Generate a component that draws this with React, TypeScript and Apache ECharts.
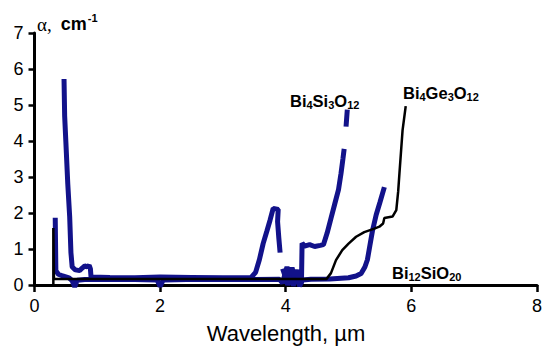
import React, { useEffect, useRef } from "react";
import * as echarts from "echarts";

const xMin = 0;
const xMax = 8;
const xStep = 2;
const yMin = 0;
const yMax = 7;
const yStep = 1;

// [wavelength µm, alpha cm^-1]
const bi4si3o12: (number | string)[][] = [
  [0.47, 5.72], [0.48, 4.7], [0.5, 3.95], [0.53, 2.8], [0.56, 1.9], [0.58, 0.9], [0.6, 0.5],
  [0.65, 0.42], [0.72, 0.4], [0.76, 0.47], [0.8, 0.53], [0.84, 0.5], [0.87, 0.55], [0.89, 0.45],
  [0.9, 0.22], [1.2, 0.21], [1.6, 0.2], [2.0, 0.22], [2.5, 0.21], [3.0, 0.2], [3.45, 0.21],
  [3.52, 0.35], [3.58, 0.7], [3.64, 1.15], [3.7, 1.5], [3.75, 1.8], [3.8, 2.13], [3.88, 2.1],
  [3.87, 1.76], [3.89, 1.3], [3.91, 0.9], [3.93, "-"], [3.95, 0.45], [3.98, 0.3], [4.02, 0.5],
  [4.06, 0.28], [4.1, 0.48], [4.14, 0.22], [4.18, 0.42], [4.21, 0.12], [4.25, 0.05], [4.26, 1.16],
  [4.3, 1.08], [4.38, 1.12], [4.46, 1.07], [4.55, 1.1], [4.6, 1.12], [4.66, 1.45], [4.72, 1.85],
  [4.78, 2.25], [4.84, 2.65], [4.88, 3.1], [4.91, 3.5], [4.93, 3.78], [4.94, "-"], [4.96, 4.4],
  [4.98, 4.87],
];

const bi12sio20: number[][] = [
  [0.33, 1.87], [0.34, 0.4], [0.38, 0.3], [0.45, 0.25], [0.55, 0.2], [0.6, 0.12], [0.64, -0.05],
  [0.68, 0.13], [0.8, 0.15], [1.2, 0.15], [1.6, 0.15], [1.95, 0.14], [2.0, -0.04], [2.05, 0.14],
  [2.6, 0.16], [3.0, 0.15], [3.5, 0.15], [3.9, 0.16], [3.95, 0.05], [3.99, 0.32], [4.03, 0.0],
  [4.08, 0.28], [4.12, -0.02], [4.17, 0.3], [4.22, -0.03], [4.27, 0.14], [4.4, 0.16], [4.7, 0.17],
  [5.0, 0.2], [5.12, 0.25], [5.2, 0.32], [5.26, 0.5], [5.3, 0.7], [5.34, 1.1], [5.38, 1.5],
  [5.44, 1.95], [5.5, 2.3], [5.57, 2.72],
];

const bi4ge3o12: number[][] = [
  [0.3, 0], [0.3, 1.58], [0.31, 0.17], [0.6, 0.17], [4.65, 0.17], [4.72, 0.33], [4.8, 0.69],
  [4.9, 0.97], [5.0, 1.15], [5.12, 1.34], [5.25, 1.47], [5.4, 1.56], [5.49, 1.62], [5.55, 1.71],
  [5.57, 1.86], [5.7, 1.9], [5.76, 2.08], [5.79, 2.6], [5.81, 3.1], [5.86, 4.3], [5.91, 4.97],
];

const xAxisTitle = "Wavelength, µm";

const SANS = "'Liberation Sans', Arial, sans-serif";
const BLUE = "#12128a";

function formula(parts: [string, string][]) {
  return parts.map(([k, t]) => `{${k}|${t}}`).join("");
}

export default function App() {
  const ref = useRef<HTMLDivElement>(null);

  useEffect(() => {
    document.body.style.margin = "0";
    if (!ref.current) return;
    const chart = echarts.init(ref.current, null, { renderer: "svg" });

    const formulaRich = {
      m: { fontSize: 16.5, fontWeight: "bold", fontFamily: SANS, fill: "#000", color: "#000", lineHeight: 18 },
      s: { fontSize: 11, fontWeight: "bold", fontFamily: SANS, fill: "#000", color: "#000", lineHeight: 9, verticalAlign: "bottom" },
    };

    const mkFormula = (text: string, x: number, y: number) => ({
      type: "text",
      x,
      y,
      style: {
        text,
        rich: formulaRich,
        align: "left",
        verticalAlign: "middle",
        textAlign: "left",
        textVerticalAlign: "middle",
        fill: "#000",
      },
    });

    chart.setOption({
      animation: false,
      grid: { left: 34.5, right: 7.5, top: 33, bottom: 64, containLabel: false },
      xAxis: {
        type: "value",
        min: xMin,
        max: xMax,
        interval: xStep,
        splitLine: { show: false },
        axisLine: { show: true, onZero: false, lineStyle: { color: "#000", width: 3 } },
        axisTick: { show: true, length: 7, lineStyle: { color: "#000", width: 2.5 } },
        axisLabel: { fontSize: 18, color: "#000", margin: 12, fontFamily: SANS },
      },
      yAxis: {
        type: "value",
        min: yMin,
        max: yMax,
        interval: yStep,
        splitLine: { show: false },
        axisLine: { show: true, lineStyle: { color: "#000", width: 3 } },
        axisTick: { show: true, length: 6, lineStyle: { color: "#000", width: 2.5 } },
        axisLabel: { fontSize: 18, color: "#000", margin: 11, fontFamily: SANS },
      },
      series: [
        {
          name: "Bi12SiO20",
          type: "line",
          data: bi12sio20,
          symbol: "none",
          clip: false,
          lineStyle: { color: BLUE, width: 5 },
          z: 2,
        },
        {
          name: "Bi4Si3O12",
          type: "line",
          data: bi4si3o12,
          symbol: "none",
          clip: false,
          connectNulls: false,
          lineStyle: { color: BLUE, width: 5 },
          z: 3,
        },
        {
          name: "Bi4Ge3O12",
          type: "line",
          data: bi4ge3o12,
          symbol: "none",
          clip: false,
          lineStyle: { color: "#000", width: 2.5 },
          z: 4,
        },
      ],
      graphic: [
        {
          type: "text",
          x: 37,
          y: 24,
          style: {
            text: "{a|α,}{b|cm}{c|-1}",
            rich: {
              a: { fontSize: 19, fontFamily: "'Liberation Serif', 'Times New Roman', serif", fill: "#000", color: "#000", lineHeight: 24 },
              b: { fontSize: 18, fontWeight: "bold", fontFamily: SANS, fill: "#000", color: "#000", lineHeight: 24, padding: [0, 0, 0, 9] },
              c: { fontSize: 11, fontWeight: "bold", fontFamily: SANS, fill: "#000", color: "#000", lineHeight: 6, verticalAlign: "top", padding: [0, 0, 0, 1] },
            },
            align: "left",
            verticalAlign: "middle",
            textAlign: "left",
            textVerticalAlign: "middle",
            fill: "#000",
          },
        },
        mkFormula(formula([["m", "Bi"], ["s", "4"], ["m", "Si"], ["s", "3"], ["m", "O"], ["s", "12"]]), 290, 101),
        mkFormula(formula([["m", "Bi"], ["s", "4"], ["m", "Ge"], ["s", "3"], ["m", "O"], ["s", "12"]]), 403, 93),
        mkFormula(formula([["m", "Bi"], ["s", "12"], ["m", "SiO"], ["s", "20"]]), 392, 273),
        {
          type: "text",
          x: 286,
          y: 333,
          style: {
            text: xAxisTitle,
            fontSize: 22,
            fontFamily: SANS,
            fill: "#000",
            align: "center",
            verticalAlign: "middle",
            textAlign: "center",
            textVerticalAlign: "middle",
          },
        },
      ],
    });

    return () => chart.dispose();
  }, []);

  return <div ref={ref} style={{ width: 545, height: 349 }} />;
}
